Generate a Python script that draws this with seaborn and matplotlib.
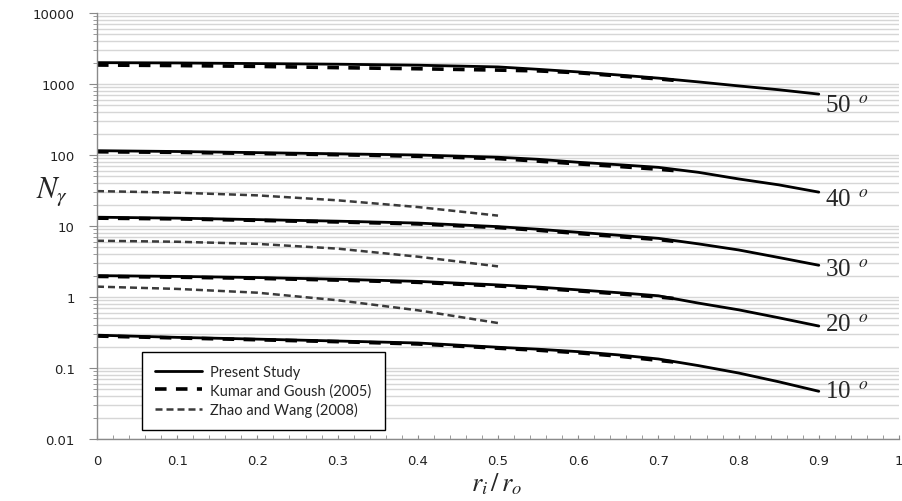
import numpy as np
import pandas as pd
import seaborn as sns
import matplotlib.pyplot as plt
from matplotlib.ticker import LogLocator, FuncFormatter, MultipleLocator, NullFormatter

# r_i / r_o values
x_present = [0.0, 0.1, 0.2, 0.3, 0.4, 0.5, 0.55, 0.6, 0.65, 0.7, 0.75, 0.8, 0.85, 0.9]
x_kumar = [0.0, 0.1, 0.2, 0.3, 0.4, 0.5, 0.55, 0.6, 0.65, 0.7, 0.73]
x_zhao = [0.0, 0.1, 0.2, 0.3, 0.4, 0.5]

angles = [10, 20, 30, 40, 50]

# Present Study
present_10 = [0.29, 0.27, 0.255, 0.24, 0.225, 0.196, 0.184, 0.17, 0.153, 0.134, 0.108, 0.085, 0.064, 0.047]
present_20 = [2.0, 1.95, 1.88, 1.78, 1.66, 1.48, 1.38, 1.26, 1.15, 1.04, 0.82, 0.66, 0.51, 0.39]
present_30 = [13.3, 12.9, 12.3, 11.7, 11.0, 9.8, 9.0, 8.15, 7.4, 6.7, 5.6, 4.6, 3.6, 2.8]
present_40 = [115, 112, 108, 104, 100, 93, 87, 79, 73, 67, 57, 46, 38, 30]
present_50 = [2000, 1980, 1940, 1900, 1840, 1740, 1610, 1480, 1340, 1210, 1070, 940, 830, 720]

# Kumar and Goush (2005)
kumar_10 = [0.282, 0.265, 0.25, 0.235, 0.218, 0.19, 0.178, 0.164, 0.147, 0.128, 0.118]
kumar_20 = [1.95, 1.9, 1.83, 1.73, 1.61, 1.43, 1.33, 1.22, 1.11, 1.0, 0.93]
kumar_30 = [12.9, 12.6, 12.0, 11.4, 10.7, 9.5, 8.7, 7.85, 7.1, 6.45, 5.9]
kumar_40 = [111, 109, 105, 101, 96, 89, 82, 75, 69, 63, 59]
kumar_50 = [1850, 1820, 1770, 1700, 1640, 1570, 1530, 1440, 1300, 1180, 1100]

# Zhao and Wang (2008)
zhao_20 = [1.4, 1.3, 1.15, 0.9, 0.65, 0.43]
zhao_30 = [6.2, 6.0, 5.6, 4.8, 3.7, 2.7]
zhao_40 = [31, 29.5, 27, 23, 18.5, 14]

sources = ['Present Study', 'Kumar and Goush (2005)', 'Zhao and Wang (2008)']

rows = []
for a, ys in zip(angles, [present_10, present_20, present_30, present_40, present_50]):
    rows += [{'r': x, 'N': y, 'source': sources[0], 'curve': f'p{a}'} for x, y in zip(x_present, ys)]
for a, ys in zip(angles, [kumar_10, kumar_20, kumar_30, kumar_40, kumar_50]):
    rows += [{'r': x, 'N': y, 'source': sources[1], 'curve': f'k{a}'} for x, y in zip(x_kumar, ys)]
for a, ys in zip([20, 30, 40], [zhao_20, zhao_30, zhao_40]):
    rows += [{'r': x, 'N': y, 'source': sources[2], 'curve': f'z{a}'} for x, y in zip(x_zhao, ys)]
df = pd.DataFrame(rows)

sns.set_style('white')
plt.rcParams['mathtext.fontset'] = 'stix'

fig = plt.figure(figsize=(9.03, 5.02), dpi=100)
ax = fig.add_axes([97 / 903, 62 / 502, 802 / 903, 426 / 502])

sns.lineplot(data=df, x='r', y='N', hue='source', style='source', size='source',
             units='curve', estimator=None, sort=False, ax=ax,
             hue_order=sources[::-1], style_order=sources, size_order=sources,
             palette={sources[0]: 'black', sources[1]: 'black', sources[2]: '#3a3a3a'},
             dashes={sources[0]: '', sources[1]: (3.2, 2.6), sources[2]: (2.8, 1.6)},
             sizes={sources[0]: 2.0, sources[1]: 2.6, sources[2]: 1.8})

ax.set_yscale('log')
ax.set_ylim(0.01, 10000)
ax.set_xlim(0, 1)
ax.yaxis.set_major_locator(LogLocator(base=10, numticks=10))
ax.yaxis.set_minor_locator(LogLocator(base=10, subs=np.arange(2, 10), numticks=100))
ax.yaxis.set_major_formatter(FuncFormatter(lambda v, _: f'{v:g}'))
ax.yaxis.set_minor_formatter(NullFormatter())
ax.xaxis.set_major_locator(MultipleLocator(0.1))
ax.xaxis.set_major_formatter(FuncFormatter(lambda v, _: f'{v:g}'))
ax.xaxis.set_minor_locator(MultipleLocator(0.02))

ax.yaxis.grid(True, which='both', color='#d6d6d6', lw=1.0)
ax.xaxis.grid(False)
ax.set_axisbelow(True)
for s in ['top', 'right']:
    ax.spines[s].set_visible(False)
for s in ['left', 'bottom']:
    ax.spines[s].set_color('#8a8a8a')
    ax.spines[s].set_linewidth(1.0)

ax.tick_params(axis='y', which='major', direction='out', length=6, color='#8a8a8a',
               labelsize=9.5, labelcolor='#222222', pad=10, left=True)
ax.tick_params(axis='y', which='minor', direction='out', length=3, color='#8a8a8a', left=True)
ax.tick_params(axis='x', which='both', direction='in', length=3, color='#8a8a8a',
               labelsize=9.5, labelcolor='#222222', pad=11, bottom=True)
ax.set_xlabel('')
ax.set_ylabel('')
ax.xaxis.label.set_visible(False)
ax.yaxis.label.set_visible(False)

# angle labels at the end of each Present Study curve
ends = [present_10[-1], present_20[-1], present_30[-1], present_40[-1], present_50[-1]]
offsets = [0, 2, -4, -7, -11]
for a, y, dy in zip(angles, ends, offsets):
    ax.annotate(f'{a} $^{{\\,o}}$', xy=(0.9, y), xytext=(6, dy), textcoords='offset pixels',
                ha='left', va='center', fontsize=18, family='Liberation Serif')

fig.text(36 / 903, 1 - 192 / 502, r'$N_{\gamma}$', fontsize=22, ha='left', va='center')
fig.text(497 / 903, 1 - 484 / 502, r'$r_i\,/\,r_o$', fontsize=19, ha='center', va='center')

handles, labels = ax.get_legend_handles_labels()
order = [labels.index(s) for s in sources]
leg = ax.legend([handles[i] for i in order], sources, loc='lower left', bbox_to_anchor=(0.056, 0.021),
                frameon=True, fancybox=False, edgecolor='black', framealpha=1,
                prop={'family': 'Lato', 'size': 10.5}, handlelength=3.2, borderpad=0.9,
                labelspacing=0.3, borderaxespad=0, handletextpad=0.6)
leg.get_frame().set_linewidth(1.0)

plt.savefig('out.png', dpi=100)
